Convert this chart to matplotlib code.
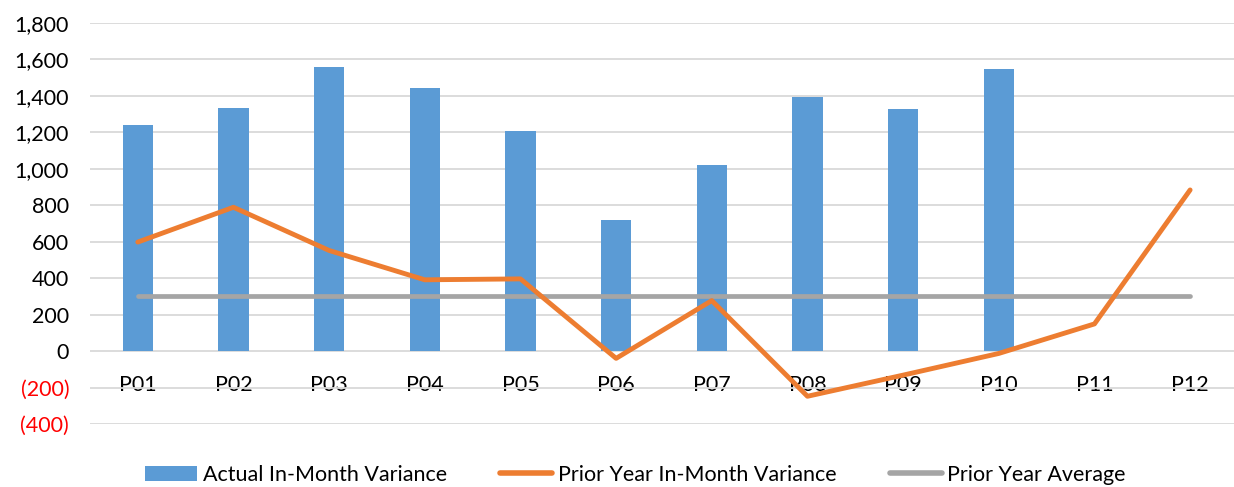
import matplotlib
matplotlib.use("Agg")
import matplotlib.pyplot as plt
from matplotlib.ticker import FuncFormatter
from matplotlib.patches import Patch
from matplotlib.lines import Line2D

categories = ["P01", "P02", "P03", "P04", "P05", "P06", "P07", "P08", "P09", "P10", "P11", "P12"]
actual = [1243, 1335, 1561, 1445, 1210, 717, 1020, 1394, 1326, 1546, None, None]
prior_year = [598, 789, 552, 391, 396, -40, 277, -248, -132, -13, 149, 884]
prior_avg = [300] * 12

plt.rcParams['font.family'] = ['Lato', 'DejaVu Sans']

fig = plt.figure(figsize=(12.34, 4.87), dpi=100)
ax = fig.add_axes([0.0729, 0.1294, 0.9303, 0.8234])

x = list(range(len(categories)))
bx = [i for i, v in zip(x, actual) if v is not None]
bv = [v for v in actual if v is not None]
ax.bar(bx, bv, width=0.315, color="#5B9BD5", zorder=2)
ax.plot(x, prior_year, color="#ED7D31", lw=3.5, solid_capstyle='round', solid_joinstyle='round', zorder=3)
ax.plot(x, prior_avg, color="#A5A5A5", lw=3.4, solid_capstyle='round', zorder=2.5)

ax.set_xlim(-0.5, 11.5)
ax.set_ylim(-400, 1800)
ax.set_yticks(range(-400, 1801, 200))

def fmt(v, pos):
    v = int(round(v))
    if v < 0:
        return "({:,})".format(-v)
    return "{:,}".format(v)

ax.yaxis.set_major_formatter(FuncFormatter(fmt))
for lbl, v in zip(ax.get_yticklabels(), range(-400, 1801, 200)):
    if v < 0:
        lbl.set_color("#FF0000")
ax.tick_params(axis='y', length=0, pad=15, labelsize=15.5)
ax.grid(axis='y', color="#D9D9D9", lw=1.3, zorder=0)
ax.set_axisbelow(True)

ax.set_xticks(x)
ax.set_xticklabels(categories)
ax.spines['bottom'].set_position(('data', 0))
ax.tick_params(axis='x', length=0, pad=17, labelsize=15.5)
for s in ['top', 'right', 'left', 'bottom']:
    ax.spines[s].set_visible(False)

handles = [Patch(facecolor="#5B9BD5"),
           Line2D([0], [0], color="#ED7D31", lw=4, solid_capstyle='round'),
           Line2D([0], [0], color="#A5A5A5", lw=4, solid_capstyle='round')]
labels = ["Actual In-Month Variance", "Prior Year In-Month Variance", "Prior Year Average"]
fig.legend(handles, labels, loc='center', bbox_to_anchor=(0.515, 0.0246), ncol=3,
           frameon=False, fontsize=15.5, columnspacing=2.5, handlelength=2.4, handletextpad=0.25,
           borderpad=0, borderaxespad=0)

fig.savefig("out.png", dpi=100)
